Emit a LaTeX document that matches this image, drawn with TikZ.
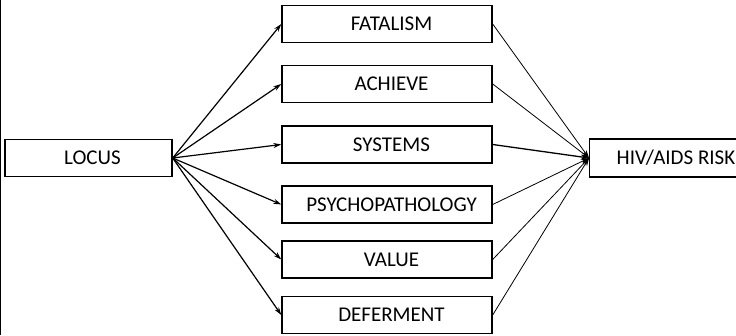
\documentclass[tikz,border=0pt]{standalone}
\usepackage{fontspec}
\setmainfont{Carlito}
\usetikzlibrary{arrows.meta}
\begin{document}
\begin{tikzpicture}[x=1pt, y=-1pt,
  box/.style={draw, line width=1.4pt, minimum height=37pt, inner sep=0pt, font=\fontsize{21}{24}\selectfont},
  midbox/.style={box, minimum width=210pt, execute at begin node={\hspace*{9pt}}},
  inarrow/.style={line width=1.2pt, -{Stealth[length=8pt,width=5pt]}},
  outarrow/.style={line width=0.8pt, -{Stealth[length=8pt,width=5pt]}}]
\clip (0,0) rectangle (736,335);
\draw[line width=2.5pt] (0,0) -- (0,335);
\node[box, minimum width=167pt, execute at begin node={\hspace*{8pt}}] (locus) at (88.5,158) {LOCUS};
\node[box, anchor=west, inner xsep=27pt, minimum height=38pt] (risk) at (589,158) {HIV/AIDS RISK};
\node[midbox] (fatalism) at (387,24) {FATALISM};
\node[midbox] (achieve) at (387,84) {ACHIEVE};
\node[midbox] (systems) at (387,144.5) {SYSTEMS};
\node[midbox] (psycho) at (387,204.5) {PSYCHOPATHOLOGY};
\node[midbox] (value) at (387,259.5) {VALUE};
\node[midbox] (deferment) at (387,315) {DEFERMENT};
% locus to the six scales
\draw[inarrow] (locus.east) -- (fatalism.west);
\draw[inarrow] (locus.east) -- (achieve.west);
\draw[inarrow] (locus.east) -- (systems.west);
\draw[inarrow] (locus.east) -- (psycho.west);
\draw[inarrow] (locus.east) -- (value.west);
\draw[inarrow] (locus.east) -- (deferment.west);
% scales to risk
\draw[outarrow] (fatalism.east) -- (risk.west);
\draw[outarrow] (achieve.east) -- (risk.west);
\draw[outarrow, line width=1.3pt] (systems.east) -- (risk.west);
\draw[outarrow] (psycho.east) -- (risk.west);
\draw[outarrow] (value.east) -- (risk.west);
\draw[outarrow] (deferment.east) -- (risk.west);
\end{tikzpicture}
\end{document}
